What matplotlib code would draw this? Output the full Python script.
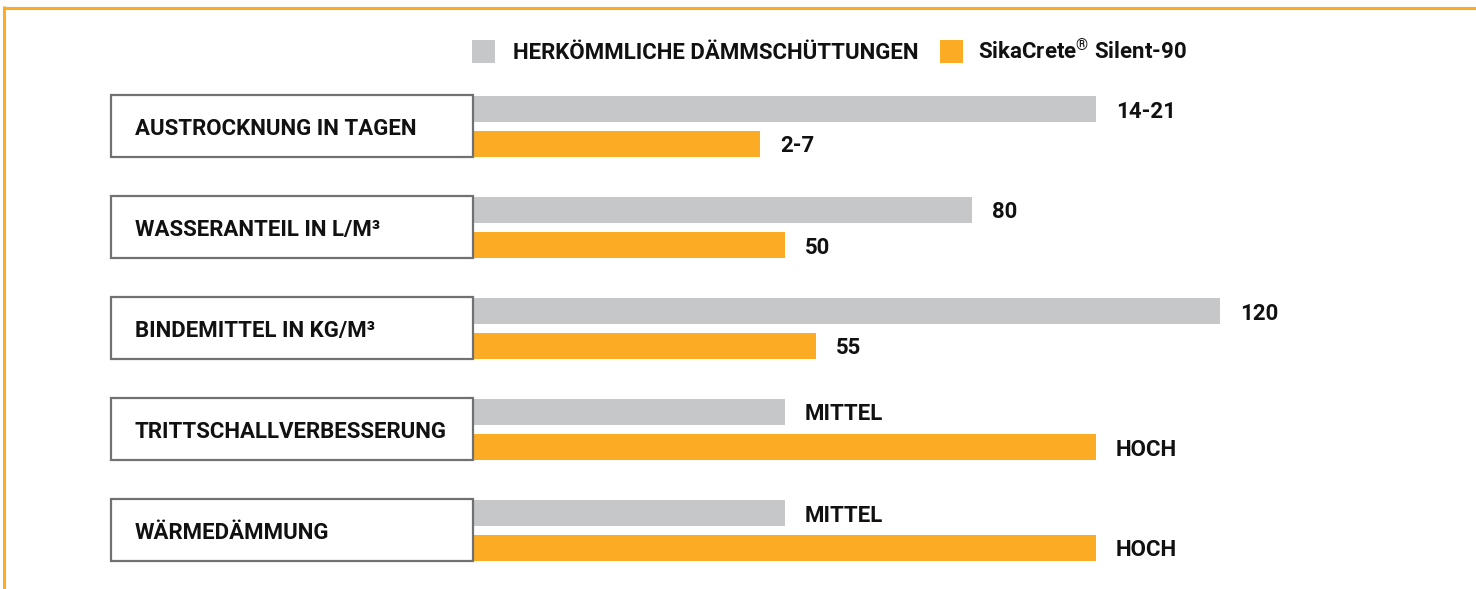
import matplotlib
matplotlib.use("Agg")
import matplotlib.pyplot as plt
from matplotlib.patches import Rectangle
from matplotlib.lines import Line2D

# ---- data ----
categories = ["AUSTROCKNUNG IN TAGEN", "WASSERANTEIL IN L/M³", "BINDEMITTEL IN KG/M³",
              "TRITTSCHALLVERBESSERUNG", "WÄRMEDÄMMUNG"]
series_names = ["HERKÖMMLICHE DÄMMSCHÜTTUNGEN", r"SikaCrete$^{\mathbf{®}}$ Silent-90"]
conventional = [100, 80, 120, 50, 50]
sikacrete = [46, 50, 55, 100, 100]
conventional_labels = ["14-21", "80", "120", "MITTEL", "MITTEL"]
sikacrete_labels = ["2-7", "50", "55", "HOCH", "HOCH"]

# ---- style ----
W, H, DPI = 1476, 589, 100
GRAY = "#c6c7c9"
ORANGE = "#fbab24"
BOX_EDGE = "#707173"
TEXT = "#111111"
FONT = "Roboto"
FS = 16

plt.rcParams["font.family"] = [FONT, "DejaVu Sans"]
plt.rcParams["mathtext.fontset"] = "custom"
plt.rcParams["mathtext.rm"] = FONT
plt.rcParams["mathtext.bf"] = FONT + ":bold"

PX_PER_UNIT = 6.22      # px per value unit
BAR_X0 = 474            # px where bars start
ROW_PX = 101            # px per row
ROW0 = 126.5            # px of centre of first row

fig = plt.figure(figsize=(W / DPI, H / DPI), dpi=DPI)
ax = fig.add_axes([0, 0, 1, 1])
ax.set_xlim(-BAR_X0 / PX_PER_UNIT, (W - BAR_X0) / PX_PER_UNIT)
ax.set_ylim((H - ROW0) / ROW_PX, -ROW0 / ROW_PX)
ax.axis("off")

bar_h = 26 / ROW_PX
off_gray = -18 / ROW_PX
off_orange = 17 / ROW_PX
ypos = list(range(len(categories)))

ax.barh([y + off_gray for y in ypos], conventional, height=bar_h, left=0, color=GRAY, linewidth=0)
ax.barh([y + off_orange for y in ypos], sikacrete, height=bar_h, left=0, color=ORANGE, linewidth=0)

# value labels
for y, v, lab in zip(ypos, conventional, conventional_labels):
    ax.annotate(lab, (v, y + off_gray), xytext=(20, -9), textcoords="offset pixels",
                ha="left", va="baseline", fontsize=FS, fontweight="bold", color=TEXT)
for y, v, lab in zip(ypos, sikacrete, sikacrete_labels):
    ax.annotate(lab, (v, y + off_orange), xytext=(20, -9), textcoords="offset pixels",
                ha="left", va="baseline", fontsize=FS, fontweight="bold", color=TEXT)

# category boxes
bx0 = (111 - BAR_X0) / PX_PER_UNIT
bw = (473 - 111) / PX_PER_UNIT
for y, cat in zip(ypos, categories):
    ax.add_patch(Rectangle((bx0, y - 31.5 / ROW_PX), bw, 62 / ROW_PX, facecolor="white",
                           edgecolor=BOX_EDGE, linewidth=1.6, zorder=3))
    ax.annotate(cat, ((135 - BAR_X0) / PX_PER_UNIT, y), xytext=(0, -8.5), textcoords="offset pixels",
                ha="left", va="baseline", fontsize=FS, fontweight="bold",
                color=TEXT, zorder=4)

# legend (manual)
def fx(px):
    return px / W

def fy(px):
    return 1 - px / H

fig.add_artist(Rectangle((fx(472), fy(63)), 23 / W, 23 / H, transform=fig.transFigure,
                         facecolor=GRAY, linewidth=0))
fig.text(fx(513), fy(59), series_names[0], ha="left", va="baseline", fontsize=FS,
         fontweight="bold", color=TEXT)
fig.add_artist(Rectangle((fx(940), fy(63)), 23 / W, 23 / H, transform=fig.transFigure,
                         facecolor=ORANGE, linewidth=0))
fig.text(fx(978), fy(59), series_names[1], ha="left", va="baseline", fontsize=FS,
         fontweight="bold", color=TEXT)

# orange frame (top and left)
fig.add_artist(Line2D([fx(2.5), 1], [fy(7.5), fy(7.5)], transform=fig.transFigure,
                      color=ORANGE, linewidth=2.2, solid_capstyle="butt"))
fig.add_artist(Line2D([fx(4), fx(4)], [fy(6), 0], transform=fig.transFigure,
                      color=ORANGE, linewidth=2.2, solid_capstyle="butt"))

fig.savefig("out.png", dpi=DPI, facecolor="white")
